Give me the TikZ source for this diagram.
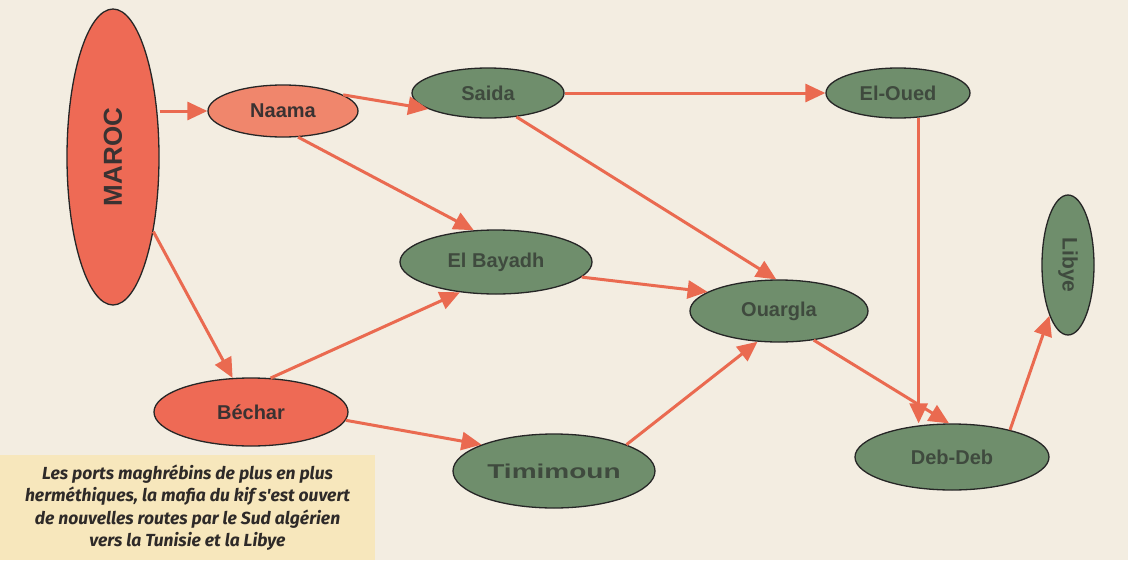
\documentclass[tikz,border=0pt]{standalone}
\usepackage{fontspec}
\setmainfont{Liberation Sans}
\newfontfamily\capfont{Fira Sans}
\usetikzlibrary{shapes.geometric,arrows.meta}
\definecolor{bgc}{HTML}{F3EDE1}
\definecolor{capbg}{HTML}{F7E7BC}
\definecolor{redc}{HTML}{EE6A55}
\definecolor{lightred}{HTML}{F0866C}
\definecolor{greenc}{HTML}{6F8E6C}
\definecolor{arrowc}{HTML}{EA6A50}
\definecolor{txtred}{HTML}{3A3232}
\definecolor{txtgreen}{HTML}{3F4A3E}
\definecolor{captxt}{HTML}{2E2A28}
\tikzset{
  place/.style={ellipse, draw=black!85, line width=1.3pt, inner sep=0pt,
    font=\bfseries\fontsize{20}{20}\selectfont},
  redn/.style={place, fill=redc, text=txtred},
  lredn/.style={place, fill=lightred, text=txtred},
  greenn/.style={place, fill=greenc, text=txtgreen},
  route/.style={draw=arrowc, line width=3pt, -{Triangle[length=20pt,width=18pt]}},
  capbox/.style={fill=capbg, inner sep=0pt, minimum width=375pt, minimum height=105pt,
    align=center, text=captxt, font=\capfont\bfseries\itshape\fontsize{17.5}{22.5}\selectfont}
}
\begin{document}
\begin{tikzpicture}[x=1pt,y=-1pt]
\fill[bgc] (0,0) rectangle (1128,560);
\useasboundingbox (0,0) rectangle (1128,560);

\node[capbox] (cap) at (187.5,507.5) {Les ports maghrébins de plus en plus\\herméthiques, la mafia du kif s'est ouvert\\de nouvelles routes par le Sud algérien\\vers la Tunisie et la Libye};

\node[redn, minimum width=92pt, minimum height=296pt] (maroc) at (113,157)
  {\fontsize{26}{26}\selectfont\rotatebox{90}{MAROC}};
\node[lredn, minimum width=150pt, minimum height=52pt] (naama) at (283,111) {Naama};
\node[greenn, minimum width=152pt, minimum height=50pt] (saida) at (488,93) {Saida};
\node[greenn, minimum width=192pt, minimum height=64pt] (bayadh) at (496,262) {El Bayadh};
\node[greenn, minimum width=144pt, minimum height=50pt] (eloued) at (898,93) {El-Oued};
\node[greenn, minimum width=178pt, minimum height=62pt] (ouargla) at (779,311) {Ouargla};
\node[greenn, minimum width=52pt, minimum height=140pt] (libye) at (1068,265)
  {\fontsize{21}{21}\selectfont\rotatebox{-90}{Libye}};
\node[greenn, minimum width=194pt, minimum height=66pt] (debdeb) at (952,457) {Deb-Deb};
\node[redn, minimum width=194pt, minimum height=68pt] (bechar) at (251,412) {Béchar};
\node[greenn, minimum width=202pt, minimum height=74pt] (timimoun) at (554,471)
  {\scalebox{1.4}[1]{Timimoun}};

\draw[route] (maroc.east |- naama.west) -- (naama.west);
\draw[route] (naama.15) -- (saida.195);
\draw[route] (naama.-60) -- (bayadh.125);
\draw[route] (saida.east) -- (eloued.west);
\draw[route] (saida.-40) -- (ouargla.95);
\draw[route] (maroc) -- (bechar);
\draw[route] (bechar.60) -- (bayadh.220);
\draw[route] (bechar.-5) -- (timimoun.160);
\draw[route] (bayadh.-10) -- (ouargla.165);
\draw[route] (timimoun.20) -- (ouargla.235);
\draw[route] (ouargla.-40) -- (debdeb.95);
\draw[route] (eloued.-50) -- (eloued.-50 |- debdeb.north);
\draw[route] (debdeb.25) -- (libye.250);
\end{tikzpicture}
\end{document}
